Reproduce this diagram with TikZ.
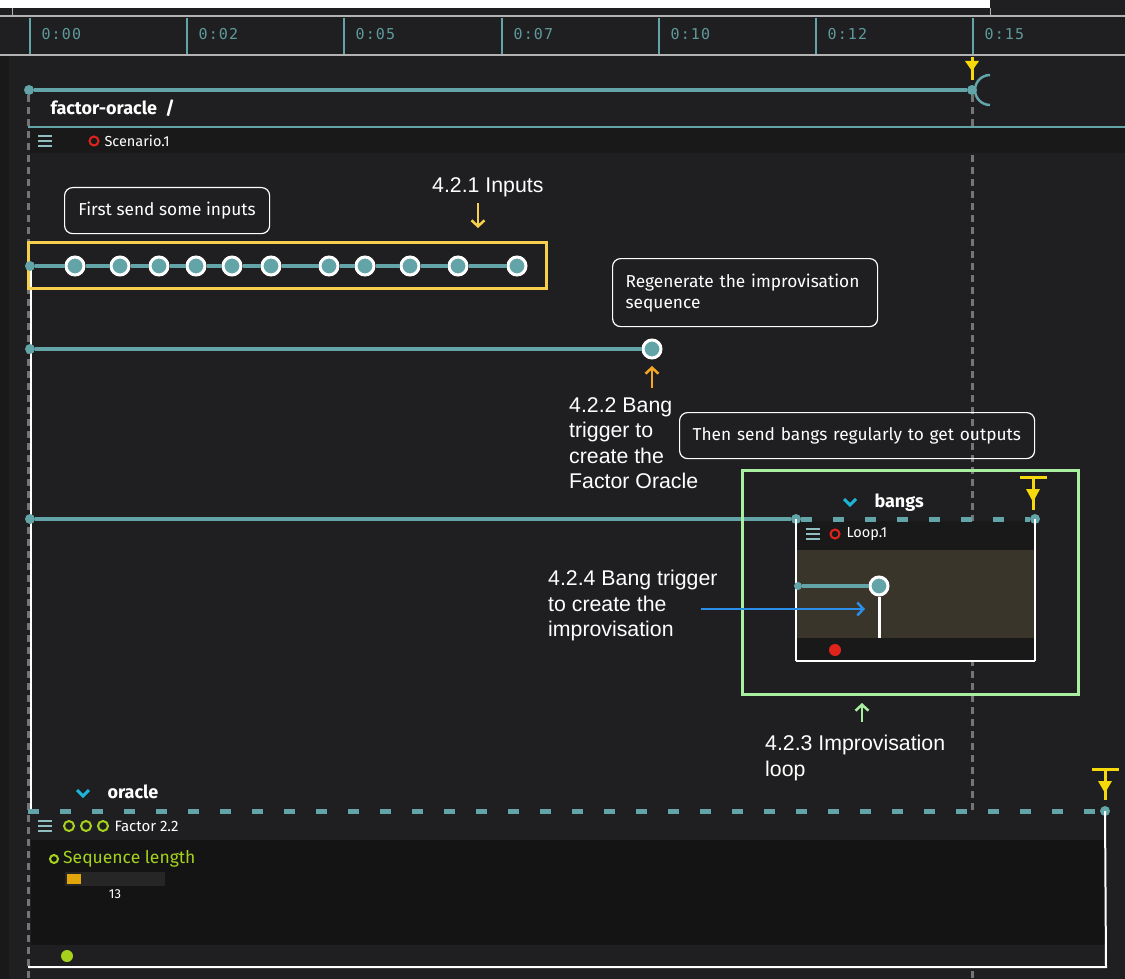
\documentclass[tikz,border=0pt]{standalone}
\usepackage{fontspec}
\setmainfont{Liberation Sans}
\newfontfamily\uifont{Fira Sans}
\newfontfamily\rulerfont[LetterSpace=8]{DejaVu Sans Mono}
\usetikzlibrary{arrows.meta,positioning}
\definecolor{appbg}{HTML}{1F1F21}
\definecolor{appdark}{HTML}{19191A}
\definecolor{bodydark}{HTML}{141414}
\definecolor{loopbody}{HTML}{3A352B}
\definecolor{ossteal}{HTML}{62A4A7}
\definecolor{rulertxt}{HTML}{5E9A9C}
\definecolor{dashgray}{HTML}{757575}
\definecolor{trigyellow}{HTML}{F5D90A}
\definecolor{noteyellow}{HTML}{F6D04D}
\definecolor{notegreen}{HTML}{A8EFA0}
\definecolor{noteorange}{HTML}{F5A623}
\definecolor{noteblue}{HTML}{2B8FEA}
\definecolor{limegreen}{HTML}{A6D21E}
\definecolor{sliderfill}{HTML}{E2A60A}
\definecolor{chevron}{HTML}{1DB4D8}
\definecolor{stopred}{HTML}{E0241B}
\tikzset{
  track/.style={ossteal,line width=4pt},
  dashtrack/.style={ossteal,line width=5pt,dash pattern=on 11pt off 21pt},
  startdot/.style={circle,fill=ossteal,inner sep=0pt,minimum size=10pt},
  evt/.style={circle,draw=white,line width=3pt,fill=ossteal,inner sep=0pt,minimum size=18pt},
  comment/.style={draw=white,line width=1.2pt,rounded corners=8pt,text=white,
    font=\uifont\fontsize{17.3}{21}\selectfont,align=left,anchor=north west,inner xsep=13pt},
  note/.style={text=white,font=\fontsize{21.3}{25.5}\selectfont,align=left,anchor=north west,inner sep=0pt},
  notearrow/.style={-{Straight Barb[length=6pt,width=13pt]},line width=2.5pt},
  timeline/.style={dashgray,line width=3pt,dash pattern=on 7pt off 5pt},
  burger/.style={ossteal!70!white,line width=1.5pt},
  boxname/.style={anchor=west,text=white!80,font=\uifont\fontsize{14.5}{14.5}\selectfont},
  bold/.style={anchor=base west,text=white,font=\uifont\bfseries\fontsize{18}{18}\selectfont},
  rulerlbl/.style={anchor=west,text=rulertxt,font=\rulerfont\fontsize{15}{15}\selectfont},
  trig/.style={trigyellow,line width=3pt}
}
\begin{document}
\begin{tikzpicture}[x=1pt,y=-1pt]
  \useasboundingbox (0,0) rectangle (1125,979);
  \fill[appbg] (0,0) rectangle (1125,979);
  \fill[appdark] (0,56) rectangle (9,979);
  \fill[white] (0,0) rectangle (990,8);
  \draw[gray!60,line width=1pt] (12,8) -- (12,16) (990,8) -- (990,16);
  % ruler
  \draw[gray!60,line width=1.5pt] (0,16) -- (1125,16) (0,55) -- (1125,55);
  \foreach \x/\t [count=\i] in {30/0:00,187/0:02,344/0:05,502/0:07,659/0:10,816/0:12,973/0:15}{
    \draw[ossteal,line width=2.5pt] (\x,18) -- (\x,54);
    \node[rulerlbl] (tk\i) at (\x+8,34) {\t};
  }
  % time lines
  \draw[timeline] (28,95) -- (28,979);
  \draw[timeline] (972,95) -- (972,979);
  \draw[white,line width=2pt] (30.5,266) -- (30.5,811);
  % main interval
  \node[startdot] (sc0) at (29,90) {};
  \node[startdot] (sc1) at (972,90) {};
  \draw[track] (sc0) -- (sc1);
  \draw[ossteal,line width=2.5pt] (990,105) arc[start angle=90,end angle=270,radius=15];
  \draw[trig] (972,57) -- (972,80);
  \fill[trigyellow] (965,61) -- (979,61) -- (972,71) -- cycle;
  \node[bold] (title) at (47,115) {factor-oracle\ \ /};
  \draw[ossteal,line width=1.5pt] (28,127) -- (1125,127);
  % scenario header
  \fill[appdark] (30,128.5) rectangle (1125,153);
  \foreach \y in {136,141,146} \draw[burger] (38,\y) -- (52,\y);
  \node[circle,draw=stopred,line width=2pt,minimum size=9pt,inner sep=0pt] (scred) at (94,141) {};
  \node[boxname] (scname) at (101,141) {Scenario.1};

  % 4.2.1 inputs
  \node[comment,minimum width=205pt,minimum height=46pt] (cm1) at (64,187) {First send some inputs};
  \node[note] (n421) at (432,177) {4.2.1 Inputs};
  \coordinate (a1s) at (478,203);
  \coordinate (a1e) at (478,228);
  \draw[notearrow,noteyellow] (a1s) -- (a1e);
  \draw[noteyellow,line width=3pt] (28.5,242) rectangle (546,288);
  \node[startdot] (in0) at (30,266) {};
  \foreach \x [count=\i] in {75,120,159,196,232,271,329,365,410,458,517}
    \node[evt] (in\i) at (\x,266) {};
  \foreach \i [remember=\i as \j (initially 0)] in {1,...,11}
    \draw[track] (in\j) -- (in\i);

  % 4.2.2 regenerate
  \node[comment,text width=239pt,minimum height=68pt] (cm2) at (612,258) {Regenerate the improvisation\\sequence};
  \node[startdot] (re0) at (30,349) {};
  \node[evt] (re1) at (652,349) {};
  \draw[track] (re0) -- (re1);
  \coordinate (a2s) at (652,388);
  \coordinate (a2e) at (652,366);
  \draw[notearrow,noteorange] (a2s) -- (a2e);
  \node[note] (n422) at (569,397) {4.2.2 Bang\\trigger to\\create the\\Factor Oracle};

  % bangs loop
  \node[comment,text width=329pt,minimum height=46pt] (cm3) at (679,412) {Then send bangs regularly to get outputs};
  \fill[appdark] (797,521) rectangle (1034,550);
  \fill[loopbody] (797,550) rectangle (1034,638);
  \fill[appdark] (797,638) rectangle (1034,660);
  \node[startdot] (bg0) at (30,519) {};
  \node[startdot] (bg1) at (796,519) {};
  \node[startdot] (bg2) at (1035,519) {};
  \draw[track] (bg0) -- (bg1);
  \draw[dashtrack] (bg1) -- (bg2);
  \draw[white,line width=2.5pt] (bg1.center) -- (796,661);
  \draw[white,line width=2.5pt] (bg2.center) -- (1035,661);
  \draw[white!70,line width=1.5pt] (796,661) -- (1035,661);
  \draw[chevron,line width=3pt] (844,499) -- (850,505) -- (856,499);
  \node[bold] (bangs) at (871,507) {bangs};
  \draw[trig] (1020,477) -- (1047,477) (1033,477) -- (1033,510);
  \fill[trigyellow] (1026,489) -- (1040,489) -- (1033,502) -- cycle;
  \foreach \y in {529,534,539} \draw[burger] (806,\y) -- (820,\y);
  \node[circle,draw=stopred,line width=2pt,minimum size=9pt,inner sep=0pt] (lpred) at (835,534) {};
  \node[boxname] (lpname) at (843,534) {Loop.1};
  \node[startdot,minimum size=8pt] (lp0) at (798,586) {};
  \node[evt] (lp1) at (879,586) {};
  \draw[track] (lp0) -- (lp1);
  \draw[white,line width=3pt] (lp1) -- (879,638);
  \node[circle,fill=stopred,minimum size=12pt,inner sep=0pt] (lpstop) at (835,650) {};
  \draw[notegreen,line width=3pt] (742,470) rectangle (1078,694);

  % 4.2.4 and 4.2.3
  \node[note] (n424) at (548,570) {4.2.4 Bang trigger\\to create the\\improvisation};
  \coordinate (a4s) at (701,609);
  \coordinate (a4e) at (865,609);
  \draw[notearrow,noteblue] (a4s) -- (a4e);
  \coordinate (a3s) at (862,722);
  \coordinate (a3e) at (862,703);
  \draw[notearrow,notegreen] (a3s) -- (a3e);
  \node[note] (n423) at (765,735) {4.2.3 Improvisation\\loop};

  % oracle
  \fill[appbg] (31,813) rectangle (1106,966);
  \fill[bodydark] (31,840) rectangle (1105,945);
  \draw[chevron,line width=3pt] (77,790) -- (83,796) -- (89,790);
  \node[bold] (oracle) at (104,798) {oracle};
  \draw[trig] (1092,769) -- (1119,769) (1105,769) -- (1105,800);
  \fill[trigyellow] (1098,781) -- (1112,781) -- (1105,793) -- cycle;
  \coordinate (or0) at (28,811);
  \node[startdot] (or1) at (1105,811) {};
  \draw[dashtrack] (or0) -- (or1);
  \draw[white!75,line width=2pt] (or1.center) -- (1106,967) -- (28,967);
  \foreach \y in {821,826,831} \draw[burger] (38,\y) -- (52,\y);
  \foreach \x [count=\i] in {69,86,103}
    \node[circle,draw=limegreen,line width=2pt,minimum size=10pt,inner sep=0pt] (led\i) at (\x,826) {};
  \node[boxname,text=white!78,font=\uifont\fontsize{15}{15}\selectfont] (orname) at (111,826) {Factor 2.2};
  \node[circle,draw=limegreen,line width=2pt,minimum size=8pt,inner sep=0pt] (seqdot) at (54,859) {};
  \node[anchor=base west,text=limegreen,font=\uifont\fontsize{17.5}{17.5}\selectfont,inner sep=0pt] (seqlbl) at (63,863) {Sequence length};
  \fill[gray!30!black] (65,872) rectangle (165,886);
  \fill[sliderfill] (67,874) rectangle (81,884);
  \node[text=white!90,font=\uifont\fontsize{13}{13}\selectfont] (seqval) at (115,894) {13};
  \node[circle,fill=limegreen,minimum size=12pt,inner sep=0pt] (ordot) at (67,956) {};
\end{tikzpicture}
\end{document}
